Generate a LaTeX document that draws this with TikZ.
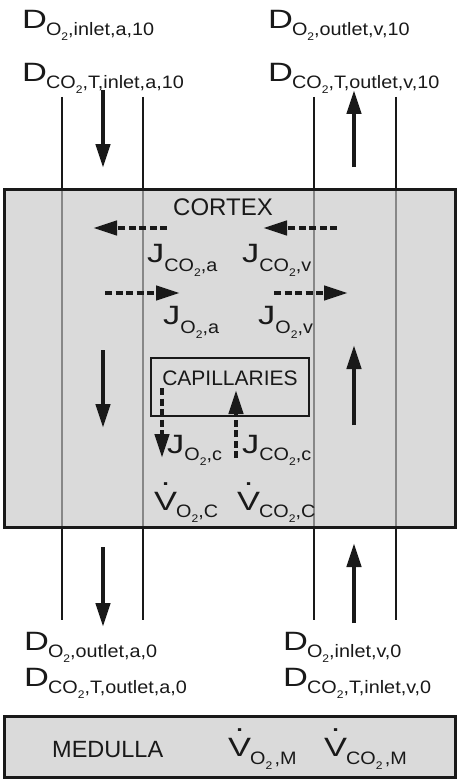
\documentclass[tikz,border=0pt]{standalone}
\usepackage{fontspec}
\setmainfont{Liberation Sans}
\usepackage{graphicx}
\usetikzlibrary{arrows.meta}
\definecolor{boxfill}{RGB}{218,218,218}
\definecolor{ink}{RGB}{25,25,25}
\definecolor{thin}{RGB}{135,135,135}
\newcommand{\vdotV}{\ooalign{V\cr\hidewidth\raisebox{0.92em}{.}\hidewidth\cr}}
% #1 lower, #2 kern, #3 main letter, #4 subscript before 2, #5 subscript after 2
\newcommand{\vq}[5]{%
  \scalebox{1.3}[1]{\fontsize{26.5}{27}\selectfont #3}\kern#2%
  \raisebox{-#1}{\scalebox{1.1}[1]{\fontsize{18}{18}\selectfont #4\raisebox{-5pt}{\fontsize{11}{11}\selectfont 2}#5}}}
\begin{document}
\begin{tikzpicture}[x=1pt,y=-1pt,
  lab/.style={anchor=base west, inner sep=0pt, text=ink},
  tube/.style={draw=ink, line width=2.5pt},
  inner/.style={draw=thin, line width=1.2pt},
  flow/.style={draw=ink, line width=4.5pt, -{Triangle[length=24pt,width=14pt]}},
  dflow/.style={flow, dash pattern=on 7pt off 3.5pt},
  region/.style={draw=ink, line width=3pt}]
\useasboundingbox (0,0) rectangle (459,781);
% cortex
\fill[boxfill] (4,189) rectangle (455,527);
\foreach \xx in {62,143,314,396} {
  \draw[inner] (\xx,189) -- (\xx,527);
  \draw[tube] (\xx,97) -- (\xx,189);
  \draw[tube] (\xx,527) -- (\xx,620);
}
\draw[region] (4,189) rectangle (455,527);
% medulla
\draw[region, fill=boxfill] (4,716) rectangle (455,777);
% capillaries
\node[draw=ink, line width=2.5pt, minimum width=158pt, minimum height=58pt, inner sep=0pt] (cap) at (230,387) {};
\node[anchor=base, inner sep=0pt, text=ink, font=\fontsize{21}{21}\selectfont] (captext) at (230,385) {CAPILLARIES};
\node[anchor=base, inner sep=0pt, text=ink, font=\fontsize{24}{24}\selectfont] (cortex) at (223,215) {CORTEX};
\node[anchor=base west, inner sep=0pt, text=ink, font=\fontsize{23.5}{24}\selectfont] (medulla) at (52,757) {MEDULLA};
% labels top
\node[lab] (tl1) at (22,29) {\vq{7pt}{-1pt}{D}{O}{,inlet,a,10}};
\node[lab] (tl2) at (22,82) {\vq{7pt}{-1pt}{D}{CO}{,T,inlet,a,10}};
\node[lab] (tr1) at (268,29) {\vq{7pt}{-1pt}{D}{O}{,outlet,v,10}};
\node[lab] (tr2) at (268,82) {\vq{7pt}{-1pt}{D}{CO}{,T,outlet,v,10}};
% labels bottom
\node[lab] (bl1) at (24,650) {\vq{7pt}{-1pt}{D}{O}{,outlet,a,0}};
\node[lab] (bl2) at (24,686) {\vq{7pt}{-1pt}{D}{CO}{,T,outlet,a,0}};
\node[lab] (br1) at (283,650) {\vq{7pt}{-1pt}{D}{O}{,inlet,v,0}};
\node[lab] (br2) at (283,686) {\vq{7pt}{-1pt}{D}{CO}{,T,inlet,v,0}};
% J labels
\node[lab] (jca) at (147,262) {\vq{9pt}{0pt}{J}{CO}{,a}};
\node[lab] (jcv) at (242,262) {\vq{9pt}{0pt}{J}{CO}{,v}};
\node[lab] (joa) at (163,324) {\vq{9pt}{0pt}{J}{O}{,a}};
\node[lab] (jov) at (258,324) {\vq{9pt}{0pt}{J}{O}{,v}};
\node[lab] (joc) at (167,453) {\vq{7pt}{0pt}{J}{O}{,c}};
\node[lab] (jcc) at (242,453) {\vq{7pt}{0pt}{J}{CO}{,c}};
% V labels
\node[lab] (voc) at (154,510) {\vq{7pt}{-1pt}{\vdotV}{O}{,C}};
\node[lab] (vcc) at (237,510) {\vq{7pt}{-1pt}{\vdotV}{CO}{,C}};
\node[lab] (vom) at (228,756) {\vq{8pt}{-1pt}{\vdotV}{O}{\hspace{2pt},M}};
\node[lab] (vcm) at (324,756) {\vq{8pt}{-1pt}{\vdotV}{CO}{\hspace{2pt},M}};
% arrow end points
\coordinate (a1s) at (103,90);  \coordinate (a1e) at (103,168);
\coordinate (a2s) at (354,167); \coordinate (a2e) at (354,90);
\coordinate (a3s) at (103,350); \coordinate (a3e) at (103,428);
\coordinate (a4s) at (354,425); \coordinate (a4e) at (354,345);
\coordinate (a5s) at (103,547); \coordinate (a5e) at (103,627);
\coordinate (a6s) at (354,623); \coordinate (a6e) at (354,543);
\coordinate (d1s) at (167,228); \coordinate (d1e) at (93,228);
\coordinate (d2s) at (337,228); \coordinate (d2e) at (263,228);
\coordinate (d3s) at (105,293); \coordinate (d3e) at (180,293);
\coordinate (d4s) at (274,293); \coordinate (d4e) at (348,293);
\coordinate (d5s) at (162,388); \coordinate (d5e) at (162,458);
\coordinate (d6s) at (236,458); \coordinate (d6e) at (236,390);
% solid arrows
\draw[flow] (a1s) -- (a1e);
\draw[flow] (a2s) -- (a2e);
\draw[flow] (a3s) -- (a3e);
\draw[flow] (a4s) -- (a4e);
\draw[flow] (a5s) -- (a5e);
\draw[flow] (a6s) -- (a6e);
% dashed arrows
\draw[dflow] (d1s) -- (d1e);
\draw[dflow] (d2s) -- (d2e);
\draw[dflow] (d3s) -- (d3e);
\draw[dflow] (d4s) -- (d4e);
\draw[dflow] (d5s) -- (d5e);
\draw[dflow] (d6s) -- (d6e);
\end{tikzpicture}
\end{document}
